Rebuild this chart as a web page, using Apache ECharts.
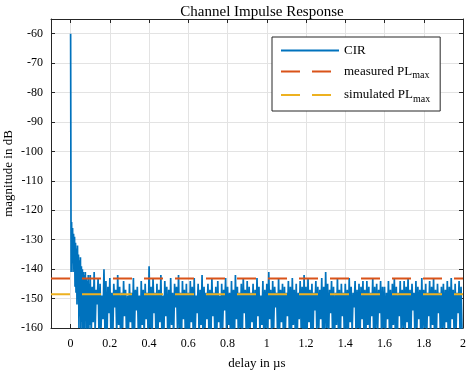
<!DOCTYPE html>
<html>
  <head>
    <meta charset="utf-8" />
    <title>Channel Impulse Response</title>
    <script src="https://cdn.jsdelivr.net/npm/echarts/dist/echarts.min.js"></script>
    <style>
      body { margin: 0; background: #fff; }
    </style>
  </head>
  <body>
    <div id="main" style="width: 467px; height: 370px;"></div>
    <script type="text/javascript">
      // sample spacing in µs
      var earlyStep = 0.0025;
      var noiseStart = 0.1;
      var noiseStep = 0.005;

      // first 0.1 µs: peak and decay
      var cirEarly = [-60, -141, -124, -138, -126, -141, -128, -140, -129, -146,
        -131, -148, -133, -152, -132, -150, -135, -160, -137, -156,
        -136, -162, -139, -158, -140, -163, -141, -160, -142, -165,
        -141, -157, -143, -161, -144, -160, -142, -166, -145, -159];

      // noise floor from 0.1 to 2 µs
      var cirNoise = [
        -142, -163, -146, -158, -141, -161, -147, -152, -143, -164, -145, -160, -149, -157, -140, -162, -144, -166, -146, -155,
        -143, -161, -148, -164, -145, -153, -147, -162, -142, -159, -146, -165, -148, -160, -144, -156, -147, -163, -149, -161,
        -145, -158, -148, -162, -143, -164, -147, -154, -146, -161, -149, -166, -144, -159, -147, -163, -145, -157, -148, -162,
        -139, -160, -146, -165, -143, -155, -148, -162, -145, -163, -147, -158, -142, -161, -149, -164, -144, -156, -146, -162,
        -147, -161, -143, -159, -148, -164, -145, -153, -146, -162, -142, -160, -148, -165, -144, -157, -147, -163, -145, -161,
        -148, -164, -144, -158, -146, -162, -143, -161, -149, -155, -145, -163, -147, -159, -142, -166, -146, -160, -148, -157,
        -145, -162, -147, -165, -143, -156, -148, -161, -146, -163, -144, -158, -149, -164, -145, -160, -147, -154, -143, -162,
        -146, -159, -148, -163, -144, -161, -147, -166, -142, -157, -146, -162, -148, -160, -145, -164, -143, -155, -147, -161,
        -144, -163, -146, -160, -148, -158, -145, -165, -147, -161, -143, -156, -146, -162, -149, -159, -144, -164, -147, -160,
        -145, -162, -141, -157, -147, -164, -144, -160, -146, -153, -148, -163, -143, -161, -147, -158, -145, -165, -146, -160,
        -148, -156, -144, -162, -146, -165, -143, -159, -147, -161, -145, -163, -148, -157, -144, -160, -146, -164, -142, -161,
        -146, -163, -143, -158, -147, -161, -145, -165, -148, -154, -144, -162, -146, -160, -147, -157, -143, -164, -146, -161,
        -141, -160, -145, -163, -147, -155, -144, -162, -146, -166, -148, -159, -143, -161, -147, -164, -145, -156, -148, -162,
        -145, -161, -147, -164, -143, -158, -146, -162, -148, -153, -144, -163, -147, -160, -145, -165, -146, -157, -144, -161,
        -147, -163, -144, -159, -146, -162, -148, -156, -143, -164, -146, -160, -145, -161, -147, -155, -144, -163, -146, -160,
        -146, -164, -148, -157, -144, -161, -147, -163, -145, -159, -143, -162, -146, -165, -148, -156, -144, -161, -147, -160,
        -144, -162, -146, -158, -143, -165, -147, -161, -145, -154, -148, -163, -144, -160, -146, -157, -147, -164, -143, -161,
        -147, -160, -145, -163, -148, -156, -144, -162, -146, -159, -143, -165, -147, -161, -145, -155, -148, -163, -146, -160,
        -145, -162, -147, -158, -144, -164, -146, -161, -143, -157, -147, -163, -145, -160, -148, -155, -144, -162, -146, -161
      ];

      var measuredPL = -143.2;
      var simulatedPL = -148.5;

      var xTicks = [0, 0.2, 0.4, 0.6, 0.8, 1, 1.2, 1.4, 1.6, 1.8, 2];
      var xMin = -0.1, xMax = 2;
      var yMin = -160, yMax = -55;

      var cirData = [];
      cirEarly.forEach(function (v, i) { cirData.push([i * earlyStep, v]); });
      cirNoise.forEach(function (v, i) { cirData.push([noiseStart + i * noiseStep, v]); });

      var font = 'Liberation Serif';
      var axisColor = '#262626';
      var gridColor = '#e3e3e3';

      var legendNames = {
        'CIR': 'CIR',
        'measured PL_max': '{t|measured PL}{s|max}',
        'simulated PL_max': '{t|simulated PL}{s|max}'
      };

      var myChart = echarts.init(document.getElementById('main'));

      var option = {
        animation: false,
        textStyle: { fontFamily: font },
        title: {
          text: 'Channel Impulse Response',
          left: 257,
          textAlign: 'center',
          top: 0,
          textStyle: { fontFamily: font, fontSize: 15, fontWeight: 'normal', color: '#000' }
        },
        grid: { left: 51, right: 4, top: 19, bottom: 42, containLabel: false, outerBoundsMode: 'none' },
        legend: {
          orient: 'vertical',
          left: 272,
          top: 37,
          padding: [7, 10, 7, 8],
          itemWidth: 58,
          itemHeight: 14,
          itemGap: 8,
          backgroundColor: '#fff',
          borderColor: axisColor,
          borderWidth: 1,
          borderRadius: 0,
          itemStyle: { opacity: 0 },
          data: ['CIR', 'measured PL_max', 'simulated PL_max'],
          formatter: function (name) { return legendNames[name]; },
          textStyle: {
            fontFamily: font,
            fontSize: 13,
            color: '#000',
            rich: {
              t: { fontFamily: font, fontSize: 13, color: '#000' },
              s: { fontFamily: font, fontSize: 10, color: '#000', padding: [8, 0, 0, 0] }
            }
          }
        },
        xAxis: [
          {
            type: 'value',
            min: xMin,
            max: xMax,
            name: 'delay in µs',
            nameLocation: 'middle',
            nameGap: 29,
            nameTextStyle: { fontFamily: font, fontSize: 13, color: '#000' },
            axisLine: { show: true, onZero: false, lineStyle: { color: axisColor } },
            axisTick: { show: true, inside: true, length: 4, customValues: xTicks, lineStyle: { color: axisColor } },
            axisLabel: { customValues: xTicks, fontFamily: font, fontSize: 12, color: '#000', margin: 10 },
            splitLine: { show: true, lineStyle: { color: gridColor } }
          },
          {
            type: 'value',
            position: 'top',
            min: xMin,
            max: xMax,
            axisLine: { show: true, onZero: false, lineStyle: { color: axisColor } },
            axisTick: { show: true, inside: true, length: 4, customValues: xTicks, lineStyle: { color: axisColor } },
            axisLabel: { show: false },
            splitLine: { show: false }
          }
        ],
        yAxis: [
          {
            type: 'value',
            min: yMin,
            max: yMax,
            interval: 10,
            name: 'magnitude in dB',
            nameLocation: 'middle',
            nameGap: 36,
            nameMoveOverlap: false,
            nameTextStyle: { fontFamily: font, fontSize: 13, color: '#000' },
            axisLine: { show: true, onZero: false, lineStyle: { color: axisColor } },
            axisTick: { show: true, inside: true, length: 4, lineStyle: { color: axisColor } },
            axisLabel: { fontFamily: font, fontSize: 12, color: '#000', margin: 8, showMaxLabel: false },
            splitLine: { show: true, lineStyle: { color: gridColor } }
          },
          {
            type: 'value',
            position: 'right',
            min: yMin,
            max: yMax,
            interval: 10,
            axisLine: { show: true, onZero: false, lineStyle: { color: axisColor } },
            axisTick: { show: true, inside: true, length: 4, lineStyle: { color: axisColor } },
            axisLabel: { show: false },
            splitLine: { show: false }
          }
        ],
        series: [
          {
            name: 'CIR',
            type: 'line',
            data: cirData,
            symbol: 'none',
            sampling: null,
            clip: true,
            lineStyle: { color: '#0072BD', width: 1.7 },
            itemStyle: { color: '#0072BD' }
          },
          {
            name: 'measured PL_max',
            type: 'line',
            data: [[xMin, measuredPL], [xMax, measuredPL]],
            symbol: 'none',
            lineStyle: { color: '#D95319', width: 2, type: [19, 12] },
            itemStyle: { color: '#D95319' }
          },
          {
            name: 'simulated PL_max',
            type: 'line',
            data: [[xMin, simulatedPL], [xMax, simulatedPL]],
            symbol: 'none',
            lineStyle: { color: '#EDB120', width: 2, type: [19, 12] },
            itemStyle: { color: '#EDB120' }
          }
        ]
      };

      myChart.setOption(option);
    </script>
  </body>
</html>
